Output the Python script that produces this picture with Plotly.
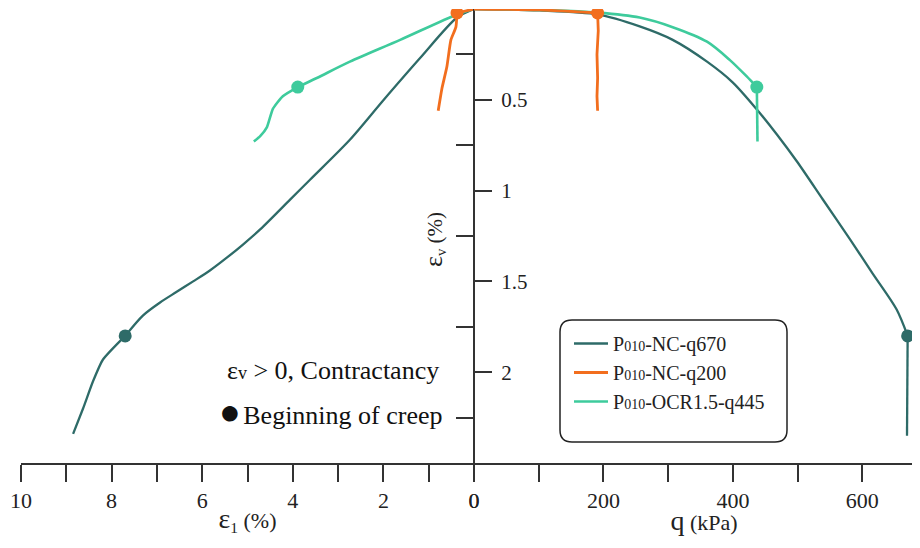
import plotly.graph_objects as go

# ---------------- data ----------------
# P010-NC-q670
e1_670 = [0, 0.375, 1.19, 2.01, 2.74, 3.62, 4.06, 4.72, 5.10, 5.45, 5.83, 6.20, 6.58, 6.93, 7.31, 7.70,
          8.19, 8.41, 8.63, 8.85]
ev1_670 = [0, 0.047, 0.27, 0.505, 0.72, 0.94, 1.05, 1.214, 1.297, 1.368, 1.44, 1.50, 1.56, 1.616, 1.688, 1.80,
           1.93, 2.05, 2.20, 2.34]
q_670 = [0, 101, 191, 256, 307, 360, 400, 437, 468, 499, 539, 581, 616, 653, 670, 670, 669]
evq_670 = [0, 0.008, 0.03, 0.096, 0.17, 0.29, 0.405, 0.553, 0.691, 0.84, 1.049, 1.269, 1.457, 1.655, 1.80,
           2.08, 2.35]

# P010-NC-q200
e1_200 = [0, 0.375, 0.40, 0.51, 0.60, 0.71, 0.79]
ev1_200 = [0, 0.022, 0.10, 0.17, 0.32, 0.44, 0.56]
q_200 = [0, 101, 191, 192, 190, 191, 190, 191]
evq_200 = [0, 0.005, 0.022, 0.12, 0.25, 0.38, 0.48, 0.56]

# P010-OCR1.5-q445
e1_445 = [0, 0.375, 1.63, 2.74, 3.47, 3.89, 4.22, 4.44, 4.57, 4.72, 4.86]
ev1_445 = [0, 0.03, 0.17, 0.29, 0.38, 0.43, 0.48, 0.55, 0.65, 0.70, 0.73]
q_445 = [0, 101, 191, 256, 307, 360, 395, 421, 437, 438, 438]
evq_445 = [0, 0.005, 0.02, 0.047, 0.10, 0.18, 0.28, 0.37, 0.43, 0.58, 0.73]

# beginning of creep points
creep_e1 = {"q670": 7.70, "q200": 0.375, "q445": 3.89}
creep_q = {"q670": 670, "q200": 191, "q445": 437}
creep_ev = {"q670": 1.80, "q200": 0.022, "q445": 0.43}

SMALL = "<span style='font-size:14px'>010</span>"
names = {"q670": f"P{SMALL}-NC-q670",
         "q200": f"P{SMALL}-NC-q200",
         "q445": f"P{SMALL}-OCR1.5-q445"}
colors = {"q670": "#2E6B68", "q200": "#F26E1E", "q445": "#3ECB9C"}

series = {
    "q670": (e1_670, ev1_670, q_670, evq_670, 2.3),
    "q200": (e1_200, ev1_200, q_200, evq_200, 2.8),
    "q445": (e1_445, ev1_445, q_445, evq_445, 2.6),
}
rank = {"q670": 1, "q200": 2, "q445": 3}

FONT = "Liberation Serif"
AX = "#333333"


def split_at(xs, ys, xc):
    """split a curve at its creep point: loading part and creep part"""
    k = min(range(len(xs)), key=lambda i: abs(xs[i] - xc))
    return (xs[:k + 1], ys[:k + 1]), (xs[k:], ys[k:])


fig = go.Figure()
for key in ["q670", "q445", "q200"]:
    e1, ev1, q, evq, w = series[key]
    c = colors[key]
    (le1, lev1), (ce1, cev1) = split_at(e1, ev1, creep_e1[key])
    (lq, levq), (cq, cevq) = split_at(q, evq, creep_q[key])
    # loading (smooth) parts
    fig.add_trace(go.Scatter(x=le1, y=lev1, xaxis="x", yaxis="y", mode="lines",
                             line=dict(color=c, width=w, shape="spline", smoothing=0.8),
                             name=names[key], legendgroup=key, showlegend=True,
                             legendrank=rank[key]))
    fig.add_trace(go.Scatter(x=lq, y=levq, xaxis="x2", yaxis="y", mode="lines",
                             line=dict(color=c, width=w, shape="spline", smoothing=0.8),
                             name=names[key], legendgroup=key, showlegend=False))
    # creep parts
    fig.add_trace(go.Scatter(x=ce1, y=cev1, xaxis="x", yaxis="y", mode="lines",
                             line=dict(color=c, width=w, shape="spline", smoothing=0.5),
                             legendgroup=key, showlegend=False))
    fig.add_trace(go.Scatter(x=cq, y=cevq, xaxis="x2", yaxis="y", mode="lines",
                             line=dict(color=c, width=w),
                             legendgroup=key, showlegend=False))
    # creep start markers
    fig.add_trace(go.Scatter(x=[creep_e1[key]], y=[creep_ev[key]], xaxis="x", yaxis="y",
                             mode="markers", marker=dict(color=c, size=13),
                             legendgroup=key, showlegend=False))
    fig.add_trace(go.Scatter(x=[creep_q[key]], y=[creep_ev[key]], xaxis="x2", yaxis="y",
                             mode="markers", marker=dict(color=c, size=13),
                             legendgroup=key, showlegend=False))

# the page body has an 8px margin: figure kept inside the 920x548 window
W, H = 904, 528
ML, MT, MB = 13, 1, 73
PW, PH = W - ML, H - MT - MB          # 891 x 454
split = (474 - 21) / PW
QMAX = (912 - 474.5) / 0.6465


def px(xs):  # screen x -> paper
    return (xs - 21) / PW


def py(ys):  # screen y -> paper
    return 1 - (ys - 9) / PH


tickf = dict(family=FONT, size=22, color="#222")
xcommon = dict(showline=True, linecolor=AX, linewidth=2, ticks="outside", ticklen=17,
               tickwidth=2, tickcolor=AX, showgrid=False, zeroline=False, tickfont=tickf)

fig.update_layout(
    width=W, height=H,
    margin=dict(l=ML, r=0, t=MT, b=MB, autoexpand=False),
    paper_bgcolor="white", plot_bgcolor="white",
    font=dict(family=FONT, size=20, color="#222"),
    showlegend=True,
    xaxis=dict(domain=[0, split], range=[10, 0], anchor="y",
               tickvals=[10, 8, 6, 4, 2, 0],
               minor=dict(tickvals=[9, 7, 5, 3, 1], ticks="outside", ticklen=17,
                          tickwidth=2, tickcolor=AX),
               title=dict(text="<span style='font-size:28px'>ε</span><sub>1</sub> (%)",
                          font=dict(family=FONT, size=22, color="#222"), standoff=6),
               **xcommon),
    xaxis2=dict(domain=[split, 1], range=[0, QMAX], anchor="y",
                tickvals=[0, 200, 400, 600],
                minor=dict(tickvals=[100, 300, 500], ticks="outside", ticklen=17,
                           tickwidth=2, tickcolor=AX),
                title=dict(text="&nbsp;&nbsp;&nbsp;&nbsp;<span style='font-size:28px'>q</span> (kPa)",
                           font=dict(family=FONT, size=22, color="#222"), standoff=6),
                **xcommon),
    yaxis=dict(range=[2.5, 0], anchor="free", position=split, side="right",
               showline=True, linecolor=AX, linewidth=2, showgrid=False, zeroline=False,
               ticks="outside", ticklen=17, tickwidth=2, tickcolor=AX, ticklabelstandoff=5,
               tickvals=[0.5, 1, 1.5, 2], ticktext=["0.5", "1", "1.5", "2"],
               minor=dict(tickvals=[0.25, 0.75, 1.25, 1.75, 2.25], ticks="inside",
                          ticklen=17, tickwidth=2, tickcolor=AX),
               tickfont=dict(family=FONT, size=21, color="#222")),
    legend=dict(x=px(569), y=py(324), xanchor="left", yanchor="top",
                bgcolor="rgba(0,0,0,0)", borderwidth=0,
                font=dict(family=FONT, size=20, color="#222"),
                tracegroupgap=0, itemwidth=34),
)

# rounded legend frame
x0, x1 = px(560), px(787)
y1, y0 = py(320), py(442)
rx, ry = 12 / PW, 12 / PH
path = (f"M {x0+rx},{y1} L {x1-rx},{y1} Q {x1},{y1} {x1},{y1-ry} "
        f"L {x1},{y0+ry} Q {x1},{y0} {x1-rx},{y0} L {x0+rx},{y0} "
        f"Q {x0},{y0} {x0},{y0+ry} L {x0},{y1-ry} Q {x0},{y1} {x0+rx},{y1} Z")
fig.add_shape(type="path", path=path, xref="paper", yref="paper",
              line=dict(color="#222", width=1.5), fillcolor="rgba(0,0,0,0)")

# y-axis title on the left of the axis
fig.add_annotation(text="<span style='font-size:26px'>ε</span><sub>v</sub> (%)",
                   xref="paper", yref="paper", x=px(434), y=py(240),
                   textangle=-90, showarrow=False,
                   font=dict(family=FONT, size=21, color="#222"))

fig.add_annotation(text="ε<span style='font-size:18px'>v</span> > 0, Contractancy",
                   xref="paper", yref="paper", x=px(441), y=py(370),
                   xanchor="right", yanchor="middle", showarrow=False,
                   font=dict(family=FONT, size=26, color="#111"))
fig.add_annotation(text="<span style='font-size:36px'>●</span><span style='font-size:10px'> </span>Beginning of creep",
                   xref="paper", yref="paper", x=px(445), y=py(412),
                   xanchor="right", yanchor="middle", showarrow=False,
                   font=dict(family=FONT, size=26, color="#111"))

fig.write_html("out.html")
